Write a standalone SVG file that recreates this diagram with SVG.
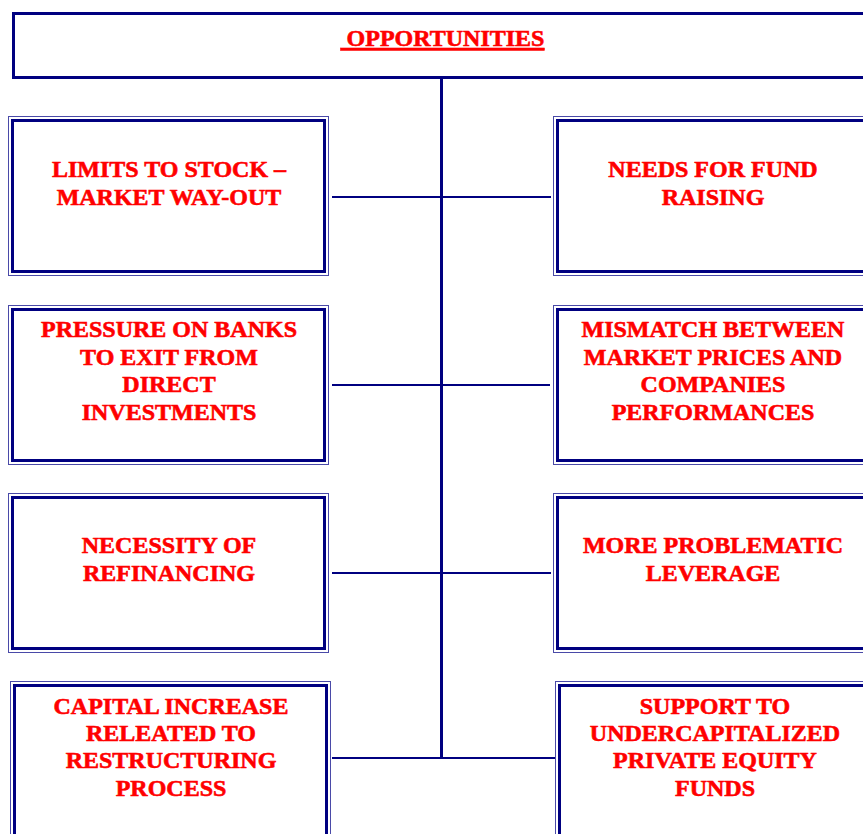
<svg xmlns="http://www.w3.org/2000/svg" width="863" height="834" viewBox="0 0 863 834">
<style>
.outer{fill:none;stroke:#4a4aa8;stroke-width:1}
.inner{fill:none;stroke:#000080;stroke-width:3}
.hdr{fill:#fff;stroke:#000080;stroke-width:3}
.conn{stroke:#000080;stroke-width:2;fill:none}
.trunk{stroke:#000080;stroke-width:3;fill:none}
text{font-family:"Liberation Serif","Times New Roman",serif;font-weight:bold;font-size:24px;fill:#ff0000;stroke:#ff0000;stroke-width:0.6;text-anchor:middle}
</style>
<rect width="863" height="834" fill="#fff"/>
<g id="connectors">
<line class="trunk" x1="441.5" y1="78" x2="441.5" y2="759"/>
<line class="conn" x1="332" y1="197" x2="551" y2="197"/>
<line class="conn" x1="332" y1="385" x2="550" y2="385"/>
<line class="conn" x1="332" y1="573" x2="551" y2="573"/>
<line class="conn" x1="332" y1="758" x2="555" y2="758"/>
</g>
<g id="header">
<rect class="hdr" x="13.5" y="13.5" width="870" height="64"/>
<text x="442.5" y="46" xml:space="preserve" text-decoration="underline"> OPPORTUNITIES</text>
</g>
<g id="n1">
<rect class="outer" x="8.5" y="116.5" width="320" height="159"/>
<rect class="inner" x="12.5" y="120.5" width="312" height="151"/>
<text x="169" y="177">LIMITS TO STOCK –</text>
<text x="169" y="205">MARKET WAY-OUT</text>
</g>
<g id="n2">
<rect class="outer" x="553.5" y="116.5" width="320" height="159"/>
<rect class="inner" x="557.5" y="120.5" width="312" height="151"/>
<text x="713" y="177">NEEDS FOR FUND</text>
<text x="713" y="205">RAISING</text>
</g>
<g id="n3">
<rect class="outer" x="8.5" y="305.5" width="320" height="159"/>
<rect class="inner" x="12.5" y="309.5" width="312" height="151"/>
<text x="169" y="337">PRESSURE ON BANKS</text>
<text x="169" y="365">TO EXIT FROM</text>
<text x="169" y="392">DIRECT</text>
<text x="169" y="420">INVESTMENTS</text>
</g>
<g id="n4">
<rect class="outer" x="553.5" y="305.5" width="320" height="159"/>
<rect class="inner" x="557.5" y="309.5" width="312" height="151"/>
<text x="713" y="337">MISMATCH BETWEEN</text>
<text x="713" y="365">MARKET PRICES AND</text>
<text x="713" y="392">COMPANIES</text>
<text x="713" y="420">PERFORMANCES</text>
</g>
<g id="n5">
<rect class="outer" x="8.5" y="493.5" width="320" height="159"/>
<rect class="inner" x="12.5" y="497.5" width="312" height="151"/>
<text x="169" y="553">NECESSITY OF</text>
<text x="169" y="581">REFINANCING</text>
</g>
<g id="n6">
<rect class="outer" x="553.5" y="493.5" width="320" height="159"/>
<rect class="inner" x="557.5" y="497.5" width="312" height="151"/>
<text x="713" y="553">MORE PROBLEMATIC</text>
<text x="713" y="581">LEVERAGE</text>
</g>
<g id="n7">
<rect class="outer" x="10.5" y="681.5" width="320" height="170"/>
<rect class="inner" x="14.5" y="685.5" width="312" height="162"/>
<text x="171" y="714">CAPITAL INCREASE</text>
<text x="171" y="741">RELEATED TO</text>
<text x="171" y="768">RESTRUCTURING</text>
<text x="171" y="796">PROCESS</text>
</g>
<g id="n8">
<rect class="outer" x="555.5" y="681.5" width="320" height="170"/>
<rect class="inner" x="559.5" y="685.5" width="312" height="162"/>
<text x="715" y="714">SUPPORT TO</text>
<text x="715" y="741">UNDERCAPITALIZED</text>
<text x="715" y="768">PRIVATE EQUITY</text>
<text x="715" y="796">FUNDS</text>
</g>
</svg>
